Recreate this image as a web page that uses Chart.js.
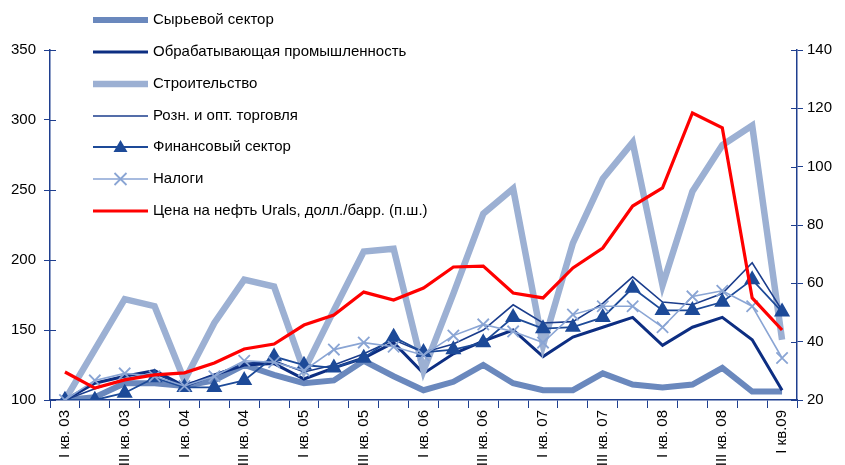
<!DOCTYPE html>
<html>
<head>
<meta charset="utf-8">
<script src="https://cdn.jsdelivr.net/npm/chart.js@4/dist/chart.umd.min.js"></script>
<style>
  html, body { margin: 0; padding: 0; background: #fff; }
  #wrap { width: 845px; height: 465px; position: relative; }
</style>
</head>
<body>
<div id="wrap"><canvas id="myChart" width="845" height="465"></canvas></div>
<script>
// кварталы
const quarters = [
  'I кв. 03', 'II кв. 03', 'III кв. 03', 'IV кв. 03',
  'I кв. 04', 'II кв. 04', 'III кв. 04', 'IV кв. 04',
  'I кв. 05', 'II кв. 05', 'III кв. 05', 'IV кв. 05',
  'I кв. 06', 'II кв. 06', 'III кв. 06', 'IV кв. 06',
  'I кв. 07', 'II кв. 07', 'III кв. 07', 'IV кв. 07',
  'I кв. 08', 'II кв. 08', 'III кв. 08', 'IV кв. 08',
  'I кв.09'
];

const syrie  = [100, 102, 112, 112, 110, 114, 125, 118, 112, 114, 128, 117, 107, 113, 125, 112, 107, 107, 119, 111, 109, 111, 123, 106, 106];
const obrab  = [100, 112, 117, 121, 110, 118, 125, 126, 115, 123, 130, 141, 119, 133, 142, 150, 131, 145, 152, 159, 139, 152, 159, 143, 107];
const stroi  = [100, 136, 172, 167, 114, 155, 186, 181, 121, 164, 206, 208, 121, 176, 233, 251, 139, 212, 258, 284, 182, 249, 282, 296, 143];
const torg   = [100, 108, 115, 119, 110, 118, 126, 128, 120, 125, 133, 143, 134, 140, 150, 168, 155, 156, 169, 188, 170, 168, 176, 198, 164];
const finans = [100, 100, 105, 116, 109, 109, 114, 131, 125, 123, 130, 145, 134, 136, 141, 159, 151, 152, 159, 180, 164, 164, 170, 186, 163];
const nalogi = [100, 114, 119, 117, 110, 117, 128, 127, 121, 136, 141, 138, 132, 146, 154, 149, 141, 161, 167, 167, 152, 174, 178, 167, 130];
const urals  = [29.6, 24.1, 26.9, 28.6, 29.3, 32.7, 37.5, 39.2, 45.7, 49.1, 57.0, 54.3, 58.4, 65.6, 65.9, 56.7, 55.0, 65.3, 72.1, 86.5, 92.7, 118.4, 113.3, 55.0, 44.0];

const leftTicks = [100, 150, 200, 250, 300, 350];
const rightTicks = [20, 40, 60, 80, 100, 120, 140];

const axisColor = '#1f3f8f';
const FONT = '"Liberation Sans", Arial, sans-serif';

function series(label, data, color, width, extra) {
  return Object.assign({
    label: label,
    data: data,
    borderColor: color,
    backgroundColor: color,
    borderWidth: width,
    pointRadius: 0,
    tension: 0,
    yAxisID: 'y'
  }, extra || {});
}

const datasets = [
  series('Сырьевой сектор', syrie, '#6a88bd', 6, { order: 7 }),
  series('Обрабатывающая промышленность', obrab, '#0d2e82', 3, { order: 6 }),
  series('Строительство', stroi, '#9cb0d3', 6.5, { order: 5 }),
  series('Розн. и опт. торговля', torg, '#1b3d8c', 1.6, { order: 4 }),
  series('Финансовый сектор', finans, '#1d4a98', 1.8, { order: 3, pointStyle: 'triangle', pointRadius: 7.5, pointHoverRadius: 7.5 }),
  series('Налоги', nalogi, '#8aa5d4', 1.6, { order: 2, pointStyle: 'cross', pointRotation: 45, pointRadius: 8, pointBorderWidth: 1.8 }),
  series('Цена на нефть Urals, долл./барр. (п.ш.)', urals, '#ff0000', 3.2, { order: 1, yAxisID: 'y1' })
];

// легенда рисуется вручную в левом верхнем углу
const legendPlugin = {
  id: 'customLegend',
  afterDraw(chart) {
    const ctx = chart.ctx;
    const x0 = 93, x1 = 148, tx = 153;
    const rowY = [20, 52, 84, 116, 147, 179, 211];
    ctx.save();
    chart.data.datasets.forEach((ds, i) => {
      const y = rowY[i];
      ctx.strokeStyle = ds.borderColor;
      ctx.lineWidth = ds.borderWidth;
      ctx.beginPath();
      ctx.moveTo(x0, y);
      ctx.lineTo(x1, y);
      ctx.stroke();
      const mx = (x0 + x1) / 2;
      if (ds.pointStyle === 'triangle') {
        ctx.fillStyle = ds.borderColor;
        ctx.beginPath();
        ctx.moveTo(mx, y - 7);
        ctx.lineTo(mx + 7, y + 5);
        ctx.lineTo(mx - 7, y + 5);
        ctx.closePath();
        ctx.fill();
      } else if (ds.pointStyle === 'cross') {
        ctx.lineWidth = 1.8;
        ctx.beginPath();
        ctx.moveTo(mx - 6, y - 6); ctx.lineTo(mx + 6, y + 6);
        ctx.moveTo(mx + 6, y - 6); ctx.lineTo(mx - 6, y + 6);
        ctx.stroke();
      }
      ctx.fillStyle = '#000';
      ctx.font = '15px ' + FONT;
      ctx.textBaseline = 'middle';
      ctx.fillText(ds.label, tx, y);
    });

    // внутренние половинки делений на осях Y (как в Excel - крест)
    const area = chart.chartArea;
    ctx.strokeStyle = axisColor;
    ctx.lineWidth = 1;
    ['y', 'y1'].forEach(id => {
      const s = chart.scales[id];
      const left = id === 'y';
      s.ticks.forEach(t => {
        const py = Math.round(s.getPixelForValue(t.value)) + 0.5;
        const ax = left ? area.left : area.right;
        ctx.beginPath();
        ctx.moveTo(ax, py);
        ctx.lineTo(left ? ax + 6 : ax - 6, py);
        ctx.stroke();
      });
    });
    ctx.restore();
  }
};

new Chart(document.getElementById('myChart'), {
  type: 'line',
  data: { labels: quarters, datasets: datasets },
  plugins: [legendPlugin],
  options: {
    responsive: false,
    animation: false,
    layout: { padding: { top: 50, left: 0, right: 0, bottom: 0 } },
    plugins: { legend: { display: false }, tooltip: { enabled: false } },
    scales: {
      x: {
        offset: true,
        grid: { offset: true, drawOnChartArea: false, drawTicks: true, tickLength: 8, color: axisColor },
        border: { color: axisColor, width: 1.5 },
        ticks: {
          autoSkip: false,
          maxRotation: 90,
          minRotation: 90,
          color: '#000',
          font: { size: 15, family: FONT },
          padding: 2,
          callback: (v, i) => (i % 2 === 0 ? quarters[i] : '')
        },
        afterFit: s => { s.height = 65; }
      },
      y: {
        position: 'left',
        min: 100,
        max: 350,
        afterBuildTicks: s => { s.ticks = leftTicks.map(v => ({ value: v })); },
        grid: { drawOnChartArea: false, tickLength: 6, color: axisColor },
        border: { color: axisColor, width: 1.5 },
        ticks: { color: '#000', font: { size: 15, family: FONT }, padding: 8 },
        afterFit: s => { s.width = 50; }
      },
      y1: {
        position: 'right',
        min: 20,
        max: 140,
        afterBuildTicks: s => { s.ticks = rightTicks.map(v => ({ value: v })); },
        grid: { drawOnChartArea: false, tickLength: 6, color: axisColor },
        border: { color: axisColor, width: 1.5 },
        ticks: { color: '#000', font: { size: 15, family: FONT }, padding: 4 },
        afterFit: s => { s.width = 48; }
      }
    }
  }
});
</script>
</body>
</html>
